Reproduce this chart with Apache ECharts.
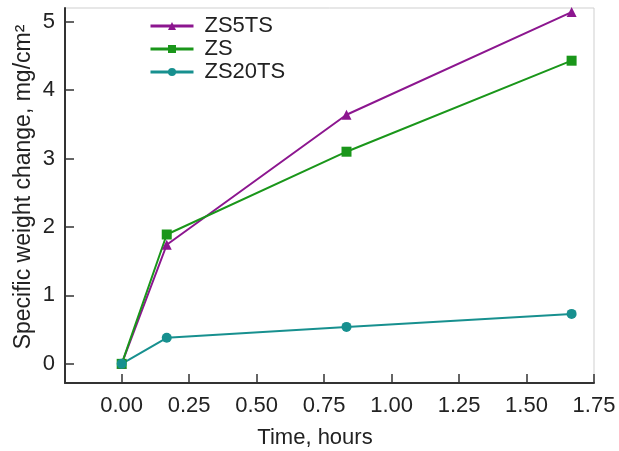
<!DOCTYPE html>
<html>
<head>
<meta charset="utf-8">
<script src="https://cdn.jsdelivr.net/npm/echarts@6/dist/echarts.min.js"></script>
<style>
html, body { margin: 0; padding: 0; background: #fff; }
#chart { width: 619px; height: 451px; }
</style>
</head>
<body>
<div id="chart"></div>
<script>
// time in hours
const times = [0, 0.167, 0.833, 1.667]
const zs5ts = [0, 1.74, 3.64, 5.14]
const zs = [0, 1.89, 3.10, 4.43]
const zs20ts = [0, 0.38, 0.54, 0.73]
const xTicks = [0, 0.25, 0.5, 0.75, 1, 1.25, 1.5, 1.75]
const yTicks = [0, 1, 2, 3, 4, 5]

const FONT = 'Liberation Sans'
const COLORS = ['#8c168f', '#1a961a', '#17908f']

function pairs(ys){
  return times.map((t, i) => [t, ys[i]])
}

let chart = echarts.init(document.getElementById('chart'))
chart.setOption({
  animation: false,
  color: COLORS,
  grid: {
    left: 65, right: 25, top: 8, bottom: 68,
    show: true,
    borderColor: '#cfcfcf',
    borderWidth: 1
  },
  legend: {
    orient: 'vertical',
    left: 144,
    top: 10,
    itemWidth: 43,
    itemHeight: 10,
    itemGap: 1,
    lineStyle: { width: 3 },
    textStyle: { fontFamily: FONT, fontSize: 22, color: '#222', padding: [0, 0, 0, 6] },
    data: ['ZS5TS', 'ZS', 'ZS20TS']
  },
  xAxis: {
    type: 'value',
    min: -0.21,
    max: 1.75,
    axisLine: { onZero: false, lineStyle: { color: '#333', width: 2 } },
    splitLine: { show: false },
    axisTick: { inside: true, length: 9, customValues: xTicks, lineStyle: { color: '#333', width: 1.5 } },
    axisLabel: {
      customValues: xTicks,
      margin: 12,
      fontFamily: FONT, fontSize: 22, color: '#222',
      formatter: v => v.toFixed(2)
    }
  },
  yAxis: {
    type: 'value',
    min: -0.28,
    max: 5.2,
    axisLine: { show: true, onZero: false, lineStyle: { color: '#333', width: 2 } },
    splitLine: { show: false },
    axisTick: { show: true, inside: true, length: 9, customValues: yTicks, lineStyle: { color: '#333', width: 1.5 } },
    axisLabel: {
      customValues: yTicks,
      margin: 10,
      fontFamily: FONT, fontSize: 22, color: '#222'
    }
  },
  graphic: [
    {
      type: 'text',
      x: 24, y: 187,
      rotation: Math.PI / 2,
      style: {
        text: 'Specific weight change, mg/cm²',
        font: '23px "Liberation Sans"',
        fill: '#222',
        textAlign: 'center',
        textVerticalAlign: 'middle'
      }
    },
    {
      type: 'text',
      x: 315, y: 438,
      style: {
        text: 'Time, hours',
        font: '22px "Liberation Sans"',
        fill: '#222',
        textAlign: 'center',
        textVerticalAlign: 'middle'
      }
    }
  ],
  series: [
    { name: 'ZS5TS', type: 'line', data: pairs(zs5ts), symbol: 'triangle', symbolSize: 10, lineStyle: { width: 2 } },
    { name: 'ZS', type: 'line', data: pairs(zs), symbol: 'rect', symbolSize: 10, lineStyle: { width: 2 } },
    { name: 'ZS20TS', type: 'line', data: pairs(zs20ts), symbol: 'circle', symbolSize: 10, lineStyle: { width: 2 } }
  ]
})
</script>
</body>
</html>
